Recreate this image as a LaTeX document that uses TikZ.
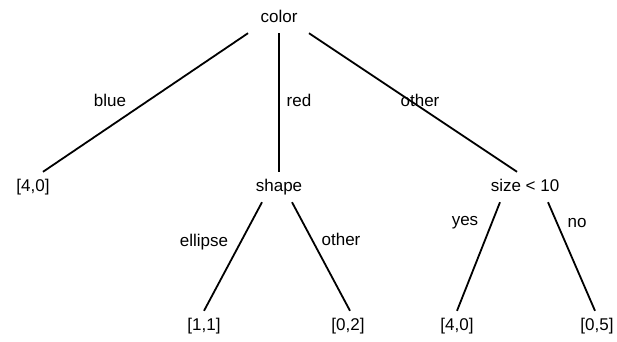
\documentclass[tikz,border=0pt]{standalone}
\usepackage{fontspec}
\setmainfont{Liberation Sans}
\usetikzlibrary{positioning}

\begin{document}
\begin{tikzpicture}
		[x=1pt,y=-1pt,
		test/.style={inner xsep=4pt,inner ysep=7pt,text height=12pt,text depth=4pt,font=\fontsize{17}{20}\selectfont},
		leaf/.style={test},
		lab/.style={inner sep=1pt,font=\fontsize{17}{20}\selectfont},
		branch/.style={line width=1.8pt}
		]
		\useasboundingbox (0,0) rectangle (617,341);
		
		% tests
		\node[test] (color) at (279,18) {color};
		\node[test] (shape) at (279,187) {shape};
		\node[test] (size) at (525,187) {size < 10};
		
		% leaves
		\node[leaf] (l1) at (33,187) {[4,0]};
		\node[leaf] (l2) at (204,326) {[1,1]};
		\node[leaf] (l3) at (348,326) {[0,2]};
		\node[leaf] (l4) at (457,326) {[4,0]};
		\node[leaf] (l5) at (597,326) {[0,5]};
		
		\draw[branch] ([xshift=-31pt]color.south) -- ([xshift=10pt]l1.north);
		\draw[branch] (color) -- (shape);
		\draw[branch] ([xshift=30pt]color.south) -- ([xshift=-8pt]size.north);
		\draw[branch] ([xshift=-17pt]shape.south) -- (l2.north);
		\draw[branch] ([xshift=13pt]shape.south) -- ([xshift=2pt]l3.north);
		\draw[branch] ([xshift=-25pt]size.south) -- (l4.north);
		\draw[branch] ([xshift=23pt]size.south) -- ([xshift=-2pt]l5.north);
		
		% branch values
		\node[lab] (vblue) at (110,100) {blue};
		\node[lab] (vred) at (299,100) {red};
		\node[lab] (vother) at (420,100) {other};
		\node[lab] (vellipse) at (204,242) {ellipse};
		\node[lab] (vother2) at (341,239) {other};
		\node[lab] (vyes) at (465,223) {yes};
		\node[lab] (vno) at (577,223) {no};
	\end{tikzpicture}
\end{document}
